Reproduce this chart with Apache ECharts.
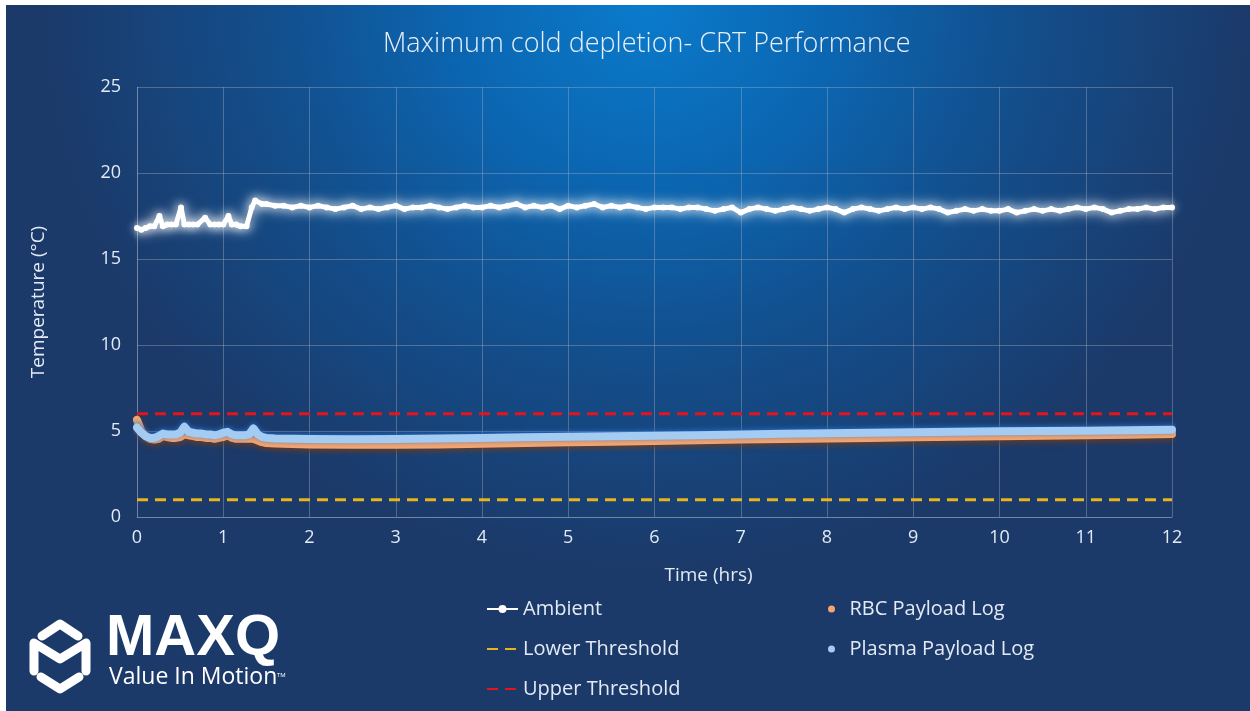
<!DOCTYPE html>
<html>
<head>
<meta charset="utf-8">
<title>Maximum cold depletion- CRT Performance</title>
<script src="https://cdn.jsdelivr.net/npm/echarts@6/dist/echarts.min.js"></script>
<style>
  html, body { margin: 0; padding: 0; background: #ffffff; width: 1250px; height: 711px; overflow: hidden; }
  #chart {
    position: absolute; left: 6px; top: 5px; width: 1244px; height: 706px;
    background-color: #1b3a6a;
    background-image: radial-gradient(ellipse 600px 560px at 640px 0px, #0a7bcb 0%, #0b67b3 30%, #12508f 60%, #1b3a6a 100%);
  }
</style>
</head>
<body>
<div id="chart"></div>
<script>
// Temperature log, hours since start -> °C
const ambientLog = [
  [0.00,16.8],[0.05,16.7],[0.10,16.8],[0.15,16.9],[0.20,16.9],[0.26,17.5],[0.30,16.9],[0.35,17.0],
  [0.40,17.0],[0.45,17.0],[0.51,18.0],[0.55,17.0],[0.60,17.0],[0.65,17.0],[0.70,17.0],[0.79,17.4],
  [0.85,17.0],[0.90,17.0],[0.95,17.0],[1.00,17.0],[1.06,17.5],[1.10,17.0],[1.15,17.0],[1.20,16.9],
  [1.27,16.9],[1.33,18.0],[1.37,18.4],[1.45,18.2],[1.50,18.2],[1.60,18.1],[1.70,18.1],[1.80,18.0],
  [1.90,18.1],[2.00,18.0],[2.10,18.1],[2.20,18.0],[2.30,17.9],[2.40,18.0],[2.50,18.1],[2.60,17.9],
  [2.70,18.0],[2.80,17.9],[2.90,18.0],[3.00,18.1],[3.10,17.9],[3.20,18.0],[3.30,18.0],[3.40,18.1],
  [3.50,18.0],[3.60,17.9],[3.70,18.0],[3.80,18.1],[3.90,18.0],[4.00,18.0],[4.10,18.1],[4.20,18.0],
  [4.30,18.1],[4.40,18.2],[4.50,18.0],[4.60,18.1],[4.70,18.0],[4.80,18.1],[4.90,17.9],[5.00,18.1],
  [5.10,18.0],[5.20,18.1],[5.30,18.2],[5.40,18.0],[5.50,18.1],[5.60,18.0],[5.70,18.1],[5.80,18.0],
  [5.90,17.9],[6.00,18.0],[6.10,18.0],[6.20,18.0],[6.30,17.9],[6.40,18.0],[6.50,18.0],[6.60,17.9],
  [6.70,17.8],[6.80,17.9],[6.90,18.0],[7.00,17.7],[7.10,17.9],[7.20,18.0],[7.30,17.9],[7.40,17.8],
  [7.50,17.9],[7.60,18.0],[7.70,17.9],[7.80,17.8],[7.90,17.9],[8.00,18.0],[8.10,17.9],[8.20,17.7],
  [8.30,17.9],[8.40,18.0],[8.50,17.9],[8.60,17.8],[8.70,17.9],[8.80,18.0],[8.90,17.9],[9.00,18.0],
  [9.10,17.9],[9.20,18.0],[9.30,17.9],[9.40,17.7],[9.50,17.8],[9.60,17.9],[9.70,17.8],[9.80,17.9],
  [9.90,17.8],[10.00,17.8],[10.10,17.9],[10.20,17.7],[10.30,17.8],[10.40,17.9],[10.50,17.8],[10.60,17.9],
  [10.70,17.8],[10.80,17.9],[10.90,18.0],[11.00,17.9],[11.10,18.0],[11.20,17.9],[11.30,17.7],[11.40,17.8],
  [11.50,17.9],[11.60,17.9],[11.70,18.0],[11.80,17.9],[11.90,18.0],[12.00,18.0]
];

const rbcLog = [
  [0.00,5.65],[0.05,5.00],[0.10,4.70],[0.15,4.55],[0.20,4.50],[0.25,4.55],[0.30,4.70],[0.35,4.65],
  [0.40,4.60],[0.45,4.60],[0.50,4.65],[0.55,4.80],[0.60,4.75],[0.65,4.70],[0.70,4.65],[0.75,4.65],
  [0.80,4.60],[0.85,4.60],[0.90,4.55],[0.95,4.60],[1.00,4.65],[1.05,4.75],[1.10,4.60],[1.15,4.55],
  [1.20,4.55],[1.25,4.55],[1.30,4.55],[1.35,4.55],[1.40,4.45],[1.45,4.35],[1.50,4.30],[1.60,4.28],
  [2.00,4.22],[2.50,4.20],[3.00,4.20],[3.50,4.22],[4.00,4.26],[4.50,4.30],[5.00,4.34],[5.50,4.38],
  [6.00,4.42],[6.50,4.46],[7.00,4.50],[7.50,4.54],[8.00,4.57],[8.50,4.60],[9.00,4.64],[9.50,4.67],
  [10.00,4.70],[10.50,4.73],[11.00,4.76],[11.50,4.78],[12.00,4.82]
];

const plasmaLog = [
  [0.00,5.20],[0.05,4.90],[0.10,4.70],[0.15,4.60],[0.20,4.60],[0.25,4.70],[0.30,4.85],[0.35,4.80],
  [0.40,4.80],[0.45,4.80],[0.50,4.90],[0.55,5.25],[0.60,4.95],[0.65,4.90],[0.70,4.85],[0.75,4.85],
  [0.80,4.80],[0.85,4.80],[0.90,4.75],[0.95,4.80],[1.00,4.90],[1.05,4.95],[1.10,4.80],[1.15,4.75],
  [1.20,4.75],[1.25,4.75],[1.30,4.80],[1.35,5.15],[1.40,4.80],[1.45,4.65],[1.50,4.60],[1.60,4.56],
  [2.00,4.54],[2.50,4.52],[3.00,4.54],[3.50,4.56],[4.00,4.59],[4.50,4.63],[5.00,4.66],[5.50,4.69],
  [6.00,4.72],[6.50,4.76],[7.00,4.80],[7.50,4.84],[8.00,4.87],[8.50,4.90],[9.00,4.93],[9.50,4.95],
  [10.00,4.98],[10.50,5.00],[11.00,5.02],[11.50,5.04],[12.00,5.07]
];

const lowerThreshold = 1;
const upperThreshold = 6;
const timeRange = [0, 12];
const tempRange = [0, 25];

const txt = '#e3eaf4';
const gridColor = 'rgba(165,170,185,0.42)';
const font = '"Open Sans", "Noto Sans", sans-serif';

const chart = echarts.init(document.getElementById('chart'), null, { renderer: 'canvas' });

const hexPart = (points) => ({
  type: 'polyline',
  shape: { points: points },
  style: { stroke: '#ffffff', lineWidth: 9, lineJoin: 'round', lineCap: 'round', fill: null }
});

chart.setOption({
  backgroundColor: 'transparent',
  textStyle: { fontFamily: font },
  title: {
    text: 'Maximum cold depletion- CRT Performance',
    left: 372, top: 21,
    textStyle: { color: '#e8eef7', fontSize: 27, fontWeight: 300, fontFamily: font }
  },
  grid: { left: 131, right: 78, top: 82, bottom: 194, containLabel: false },
  xAxis: {
    type: 'value', min: timeRange[0], max: timeRange[1], interval: 1,
    name: 'Time (hrs)', nameLocation: 'middle', nameGap: 49,
    nameTextStyle: { color: txt, fontSize: 19, padding: [0, 0, 0, 108] },
    axisLine: { show: true, lineStyle: { color: gridColor } },
    axisTick: { show: false },
    axisLabel: { color: txt, fontSize: 18, margin: 12 },
    splitLine: { show: true, lineStyle: { color: gridColor, width: 1 } }
  },
  yAxis: {
    type: 'value', min: tempRange[0], max: tempRange[1], interval: 5,
    name: 'Temperature (°C)', nameLocation: 'middle', nameGap: 89,
    nameTextStyle: { color: txt, fontSize: 19 },
    axisLine: { show: true, lineStyle: { color: gridColor } },
    axisTick: { show: false },
    axisLabel: { color: txt, fontSize: 18, margin: 16 },
    splitLine: { show: true, lineStyle: { color: gridColor, width: 1 } }
  },
  legend: [
    {
      orient: 'vertical', left: 475, top: 588,
      itemWidth: 31, itemHeight: 10, itemGap: 18,
      textStyle: { color: txt, fontSize: 20, lineHeight: 22 },
      data: [
        'Ambient',
        { name: 'Lower Threshold', itemStyle: { opacity: 0 } },
        { name: 'Upper Threshold', itemStyle: { opacity: 0 } }
      ]
    },
    {
      orient: 'vertical', left: 817, top: 588,
      itemWidth: 14, itemHeight: 7, itemGap: 18,
      textStyle: { color: txt, fontSize: 20, lineHeight: 22, padding: [0, 0, 0, 6] },
      data: [
        { name: 'RBC Payload Log', icon: 'circle' },
        { name: 'Plasma Payload Log', icon: 'circle' }
      ]
    }
  ],
  series: [
    {
      name: 'Lower Threshold', type: 'line', symbol: 'none', silent: true,
      data: [[timeRange[0], lowerThreshold], [timeRange[1], lowerThreshold]],
      lineStyle: { color: '#e8b41c', width: 3, type: [11, 7] },
      itemStyle: { color: '#e8b41c' }, z: 2
    },
    {
      name: 'Upper Threshold', type: 'line', symbol: 'none', silent: true,
      data: [[timeRange[0], upperThreshold], [timeRange[1], upperThreshold]],
      lineStyle: { color: '#e5141c', width: 3, type: [11, 7] },
      itemStyle: { color: '#e5141c' }, z: 2
    },
    {
      name: 'RBC Payload Log', type: 'line', symbol: 'none',
      data: rbcLog,
      lineStyle: { color: '#f5a56f', width: 8, cap: 'round', join: 'round',
        shadowColor: 'rgba(120,60,20,0.9)', shadowBlur: 6, shadowOffsetY: 2 },
      itemStyle: { color: '#f5a56f' }, z: 3
    },
    {
      name: 'Plasma Payload Log', type: 'line', symbol: 'none',
      data: plasmaLog,
      lineStyle: { color: '#a4cbf1', width: 8, cap: 'round', join: 'round',
        shadowColor: 'rgba(40,110,200,0.9)', shadowBlur: 5, shadowOffsetY: -1 },
      itemStyle: { color: '#a4cbf1' }, z: 4
    },
    {
      name: 'Ambient', type: 'line', symbol: 'circle', symbolSize: 6, showSymbol: true,
      data: ambientLog,
      lineStyle: { color: '#ffffff', width: 5, join: 'round',
        shadowColor: 'rgba(255,255,255,1)', shadowBlur: 14 },
      itemStyle: { color: '#ffffff', shadowColor: 'rgba(255,255,255,0.9)', shadowBlur: 8 },
      z: 5
    }
  ],
  graphic: [
    // brand mark: roof, M and base of a broken hexagon
    hexPart([[36, 631], [54, 619], [72, 631]]),
    hexPart([[28, 666], [28, 638], [54, 654], [80, 638], [80, 666]]),
    hexPart([[35, 672], [54, 684], [73, 672]]),
    {
      type: 'text', left: 100, top: 605,
      style: { text: 'MAXQ', fill: '#ffffff', font: 'bold 58px "Liberation Sans", Arial, sans-serif' }
    },
    {
      type: 'text', left: 103, top: 661,
      style: { text: 'Value In Motion', fill: '#ffffff', font: '23px ' + font }
    },
    {
      type: 'text', left: 271, top: 667,
      style: { text: 'TM', fill: '#ffffff', font: '6px ' + font }
    }
  ]
});
</script>
</body>
</html>
